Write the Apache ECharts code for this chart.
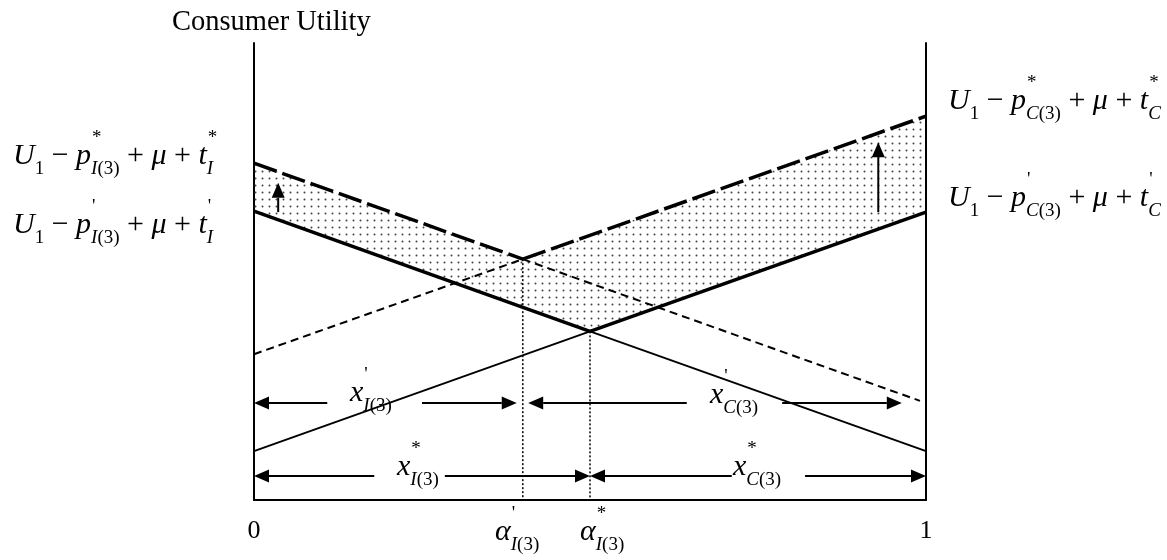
<!DOCTYPE html>
<html>
<head>
<meta charset="utf-8">
<script src="https://cdn.jsdelivr.net/npm/echarts@6/dist/echarts.min.js"></script>
<style>
  html, body { margin: 0; padding: 0; background: #fff; }
  #main { width: 1167px; height: 560px; }
</style>
</head>
<body>
<div id="main"></div>
<script>
// values (x: 0..1 share, y: utility in arbitrary units 0..10)
const alphaP = [0.40, 5.27]   // kink of the dashed (*) envelope
const alphaS = [0.50, 3.69]   // kink of the solid (') envelope
const iStar = [[0, 7.37], alphaP, [0.991, 2.17]]
const cStar = [[0, 3.19], alphaP, [1, 8.40]]
const iPrime = [[0, 6.32], alphaS, [1, 1.07]]
const cPrime = [[0, 1.07], alphaS, [1, 6.30]]
// arrows: [fromX, fromY, tipX, tipY]
const rowPrime = 2.12
const rowStar = 0.525
const arrows = [
  [0.109, rowPrime, 0, rowPrime],
  [0.25, rowPrime, 0.391, rowPrime],
  [0.644, rowPrime, 0.408, rowPrime],
  [0.786, rowPrime, 0.964, rowPrime],
  [0.179, rowStar, 0, rowStar],
  [0.284, rowStar, 0.50, rowStar],
  [0.711, rowStar, 0.50, rowStar],
  [0.82, rowStar, 1.0, rowStar],
  [0.036, 6.30, 0.036, 6.94],
  [0.929, 6.30, 0.929, 7.83]
]
const xTicks = [0, 1]

const SERIF = '"Liberation Serif", "DejaVu Serif", serif'
const FS = 30

const mctx = document.createElement('canvas').getContext('2d')
function tw (s, size, italic) {
  mctx.font = (italic ? 'italic ' : '') + size + 'px ' + SERIF
  return mctx.measureText(s).width
}
function txt (s, x, y, size, italic) {
  return {
    type: 'text', x: x, y: y, silent: true,
    style: {
      text: s, fill: '#000', align: 'left', verticalAlign: 'middle',
      font: (italic ? 'italic ' : '') + size + 'px ' + SERIF
    }
  }
}
// tokens: [text, kind] kind = i (italic), r (roman), sup, sub, subi
function formula (tokens, x0, yc, fs) {
  const ss = Math.round(fs * 0.64)
  const els = []
  let cur = x0
  let supW = 0
  let subW = 0
  tokens.forEach(([s, k]) => {
    if (k === 'i' || k === 'r') {
      cur += Math.max(supW, subW)
      supW = subW = 0
      els.push(txt(s, cur, yc, fs, k === 'i'))
      cur += tw(s, fs, k === 'i')
    } else if (k === 'sup') {
      els.push(txt(s, cur + supW + 1, yc - fs * 0.6, ss, false))
      supW += tw(s, ss, false) + 1
    } else {
      const it = k === 'subi'
      els.push(txt(s, cur + subW, yc + fs * 0.42, ss, it))
      subW += tw(s, ss, it)
    }
  })
  return els
}
function utilLabel (mark, firm) {
  return [['U', 'i'], ['1', 'sub'], [' − ', 'r'], ['p', 'i'], [mark, 'sup'], [firm, 'subi'], ['(3)', 'sub'],
    [' + ', 'r'], ['μ', 'i'], [' + ', 'r'], ['t', 'i'], [mark, 'sup'], [firm, 'subi']]
}
function varLabel (sym, mark, firm) {
  return [[sym, 'i'], [mark, 'sup'], [firm, 'subi'], ['(3)', 'sub']]
}

// dotted fill pattern
const pat = document.createElement('canvas')
pat.width = 7
pat.height = 7
const pctx = pat.getContext('2d')
pctx.fillStyle = '#444'
pctx.beginPath()
pctx.arc(3.5, 3.5, 1.0, 0, Math.PI * 2)
pctx.fill()

const graphics = [
  txt('Consumer Utility', 172, 23, 28.5, false),
  ...formula(utilLabel('*', 'I'), 13, 156, FS),
  ...formula(utilLabel("'", 'I'), 13, 225, FS),
  ...formula(utilLabel('*', 'C'), 948, 101, FS),
  ...formula(utilLabel("'", 'C'), 948, 198, FS),
  ...formula(varLabel('x', "'", 'I'), 350, 393, FS),
  ...formula(varLabel('x', "'", 'C'), 710, 395, FS),
  ...formula(varLabel('x', '*', 'I'), 397, 467, FS),
  ...formula(varLabel('x', '*', 'C'), 733, 467, FS),
  ...formula(varLabel('α', "'", 'I'), 495, 532, FS),
  ...formula(varLabel('α', '*', 'I'), 580, 532, FS)
]

function seg (data, width, type) {
  return {
    type: 'line', data: data, symbol: 'none', silent: true, z: 3,
    lineStyle: { color: '#000', width: width, type: type }
  }
}

const chart = echarts.init(document.getElementById('main'))
chart.setOption({
  animation: false,
  backgroundColor: '#fff',
  grid: { left: 254, right: 241, top: 43, bottom: 60 },
  xAxis: {
    type: 'value', min: 0, max: 1, interval: 1,
    axisLine: { show: true, lineStyle: { color: '#000', width: 2 } },
    axisTick: { show: false },
    splitLine: { show: false },
    axisLabel: {
      margin: 18, color: '#000', fontSize: 26, fontFamily: SERIF,
      customValues: xTicks
    }
  },
  yAxis: [
    {
      type: 'value', min: 0, max: 10, position: 'left',
      axisLine: { show: true, lineStyle: { color: '#000', width: 2 } },
      axisTick: { show: false }, axisLabel: { show: false }, splitLine: { show: false }
    },
    {
      type: 'value', min: 0, max: 10, position: 'right',
      axisLine: { show: true, lineStyle: { color: '#000', width: 2 } },
      axisTick: { show: false }, axisLabel: { show: false }, splitLine: { show: false }
    }
  ],
  graphic: graphics,
  series: [
    {
      type: 'custom', silent: true, z: 1,
      data: [0],
      renderItem: function (params, api) {
        const poly = [iStar[0], alphaP, cStar[2], cPrime[2], alphaS, iPrime[0]].map(p => api.coord(p))
        return {
          type: 'polygon',
          shape: { points: poly },
          style: { fill: { image: pat, repeat: 'repeat' }, stroke: null }
        }
      }
    },
    seg(iStar.slice(0, 2), 3.5, [24, 6]),
    seg(iStar.slice(1), 2, [8, 5]),
    seg(cStar.slice(0, 2), 2, [8, 5]),
    seg(cStar.slice(1), 3.5, [24, 6]),
    seg(iPrime.slice(0, 2), 3.5, 'solid'),
    seg(iPrime.slice(1), 2, 'solid'),
    seg(cPrime.slice(0, 2), 2, 'solid'),
    seg(cPrime.slice(1), 3.5, 'solid'),
    seg([alphaP, [alphaP[0], 0]], 1.5, [2, 2]),
    seg([alphaS, [alphaS[0], 0]], 1.5, [2, 2]),
    {
      type: 'custom', silent: true, z: 4,
      data: arrows,
      dimensions: ['x1', 'y1', 'x2', 'y2'],
      encode: { x: [0, 2], y: [1, 3] },
      renderItem: function (params, api) {
        const a = api.coord([api.value(0), api.value(1)])
        const b = api.coord([api.value(2), api.value(3)])
        const dx = b[0] - a[0]
        const dy = b[1] - a[1]
        const len = Math.sqrt(dx * dx + dy * dy)
        const ux = dx / len
        const uy = dy / len
        const hl = 15
        const hw = 6.5
        const bx = b[0] - ux * hl
        const by = b[1] - uy * hl
        return {
          type: 'group',
          children: [
            {
              type: 'line',
              shape: { x1: a[0], y1: a[1], x2: bx, y2: by },
              style: { stroke: '#000', lineWidth: 2 }
            },
            {
              type: 'polygon',
              shape: { points: [b, [bx - uy * hw, by + ux * hw], [bx + uy * hw, by - ux * hw]] },
              style: { fill: '#000' }
            }
          ]
        }
      }
    }
  ]
})
</script>
</body>
</html>
